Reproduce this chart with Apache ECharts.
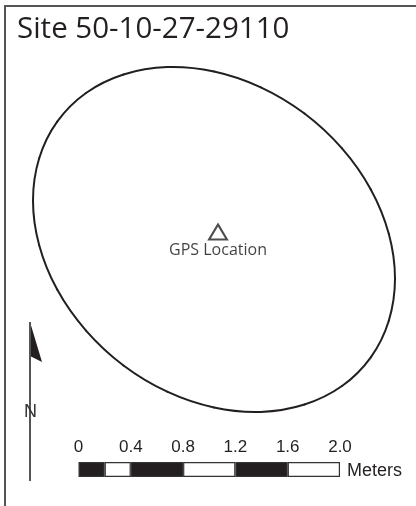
<!DOCTYPE html>
<html>
<head>
<meta charset="utf-8">
<title>Site 50-10-27-29110</title>
<style>
  html, body { margin: 0; padding: 0; background: #fff; }
  #chart { width: 416px; height: 506px; }
</style>
<script src="https://cdn.jsdelivr.net/npm/echarts@6/dist/echarts.min.js"></script>
</head>
<body>
<div id="chart"></div>
<script>
// site outline (closed loop)
var outlineX = [395, 388.8, 370.8, 342, 304.5, 260.8, 214, 167.2, 123.5, 86, 57.2, 39.2, 33, 39.2, 57.2, 86, 123.5, 167.2, 214, 260.8, 304.5, 342, 370.8, 388.8];
var outlineY = [278.6, 320.7, 357.3, 386, 404.5, 411.9, 407.5, 391.7, 365.5, 330.6, 289.6, 245.2, 200.4, 158.3, 121.7, 93, 74.5, 67.1, 71.5, 87.3, 113.5, 148.4, 189.4, 233.8];

var gpsPoint = [218, 232];

var northShaftX = [30, 30];
var northShaftY = [322, 481];
var northHeadX = [30, 42, 30];
var northHeadY = [322, 362, 356];

// scale bar, meters
var scaleSegments = [0.2, 0.2, 0.4, 0.4, 0.4, 0.4];
var scaleColors = ['#231f20', '#fff', '#231f20', '#fff', '#231f20', '#fff'];

function zip(a, b) {
  return a.map(function (v, i) { return [v, b[i]]; });
}

var chart = echarts.init(document.getElementById('chart'));

var series = [{
  // line series can't close a smooth curve cleanly, so each span is its own bezier
  type: 'custom',
  xAxisIndex: 0,
  yAxisIndex: 0,
  data: zip(outlineX, outlineY),
  renderItem: function (params, api) {
    var pts = zip(outlineX, outlineY).map(function (p) { return api.coord(p); });
    var n = pts.length;
    var i = params.dataIndex;
    var prev = pts[(i + n - 1) % n], a = pts[i], b = pts[(i + 1) % n], next = pts[(i + 2) % n];
    return {
      type: 'bezierCurve',
      shape: {
        x1: a[0],
        y1: a[1],
        x2: b[0],
        y2: b[1],
        cpx1: a[0] + (b[0] - prev[0]) / 6,
        cpy1: a[1] + (b[1] - prev[1]) / 6,
        cpx2: b[0] - (next[0] - a[0]) / 6,
        cpy2: b[1] - (next[1] - a[1]) / 6
      },
      style: { fill: null, stroke: '#231f20', lineWidth: 2, lineCap: 'round' }
    };
  }
}, {
  type: 'scatter',
  xAxisIndex: 0,
  yAxisIndex: 0,
  data: [gpsPoint],
  symbol: 'triangle',
  symbolSize: [18, 15],
  itemStyle: { color: '#fff', borderColor: '#231f20', borderWidth: 2 },
  label: {
    show: true,
    position: 'bottom',
    distance: 2,
    formatter: 'GPS Location',
    fontFamily: 'Open Sans',
    fontSize: 16,
    color: '#111'
  }
}, {
  type: 'line',
  xAxisIndex: 0,
  yAxisIndex: 0,
  data: zip(northShaftX, northShaftY),
  symbol: 'none',
  lineStyle: { color: '#555', width: 2 }
}, {
  type: 'custom',
  xAxisIndex: 0,
  yAxisIndex: 0,
  data: zip(northHeadX, northHeadY),
  renderItem: function (params, api) {
    if (params.dataIndex !== 0) return;
    return {
      type: 'polygon',
      shape: { points: zip(northHeadX, northHeadY).map(function (p) { return api.coord(p); }) },
      style: { fill: '#231f20' }
    };
  }
}];

scaleSegments.forEach(function (w, i) {
  series.push({
    type: 'bar',
    xAxisIndex: 1,
    yAxisIndex: 1,
    stack: 'scale',
    barWidth: '100%',
    data: [w],
    itemStyle: { color: scaleColors[i], borderColor: '#333', borderWidth: 1.2 }
  });
});

chart.setOption({
  animation: false,
  backgroundColor: '#fff',
  title: [{
    text: 'Site 50-10-27-29110',
    left: 17,
    top: 15,
    padding: 0,
    textStyle: { fontFamily: 'Open Sans', fontSize: 29.5, fontWeight: 'normal', color: '#231f20' }
  }, {
    text: 'Meters',
    left: 347,
    top: 462,
    padding: 0,
    textStyle: { fontFamily: 'Liberation Sans', fontSize: 18, fontWeight: 'normal', color: '#231f20' }
  }, {
    text: 'N',
    left: 24,
    top: 403,
    padding: 0,
    textStyle: { fontFamily: 'Liberation Sans', fontSize: 18, fontWeight: 'normal', color: '#333' }
  }],
  grid: [
    { left: 5, top: 6, right: 0, bottom: 0 },
    { left: 78.5, top: 462, width: 261.5, height: 15 }
  ],
  xAxis: [{
    gridIndex: 0,
    type: 'value',
    position: 'top',
    min: 5,
    max: 416,
    axisLine: { show: true, onZero: false, lineStyle: { color: '#555', width: 2 } },
    axisTick: { show: false },
    axisLabel: { show: false },
    splitLine: { show: false }
  }, {
    gridIndex: 1,
    type: 'value',
    position: 'top',
    min: 0,
    max: 2,
    interval: 0.4,
    axisLine: { show: false },
    axisTick: { show: false },
    splitLine: { show: false },
    axisLabel: {
      margin: 6,
      fontFamily: 'Liberation Sans',
      fontSize: 17,
      color: '#231f20',
      showMinLabel: true,
      showMaxLabel: true,
      formatter: function (v) { return v === 0 ? '0' : v.toFixed(1); }
    }
  }],
  yAxis: [{
    gridIndex: 0,
    type: 'value',
    position: 'left',
    inverse: true,
    min: 6,
    max: 506,
    axisLine: { show: true, onZero: false, lineStyle: { color: '#555', width: 2 } },
    axisTick: { show: false },
    axisLabel: { show: false },
    splitLine: { show: false }
  }, {
    gridIndex: 1,
    type: 'category',
    data: ['scale'],
    axisLine: { show: false },
    axisTick: { show: false },
    axisLabel: { show: false }
  }],
  series: series
});
</script>
</body>
</html>
